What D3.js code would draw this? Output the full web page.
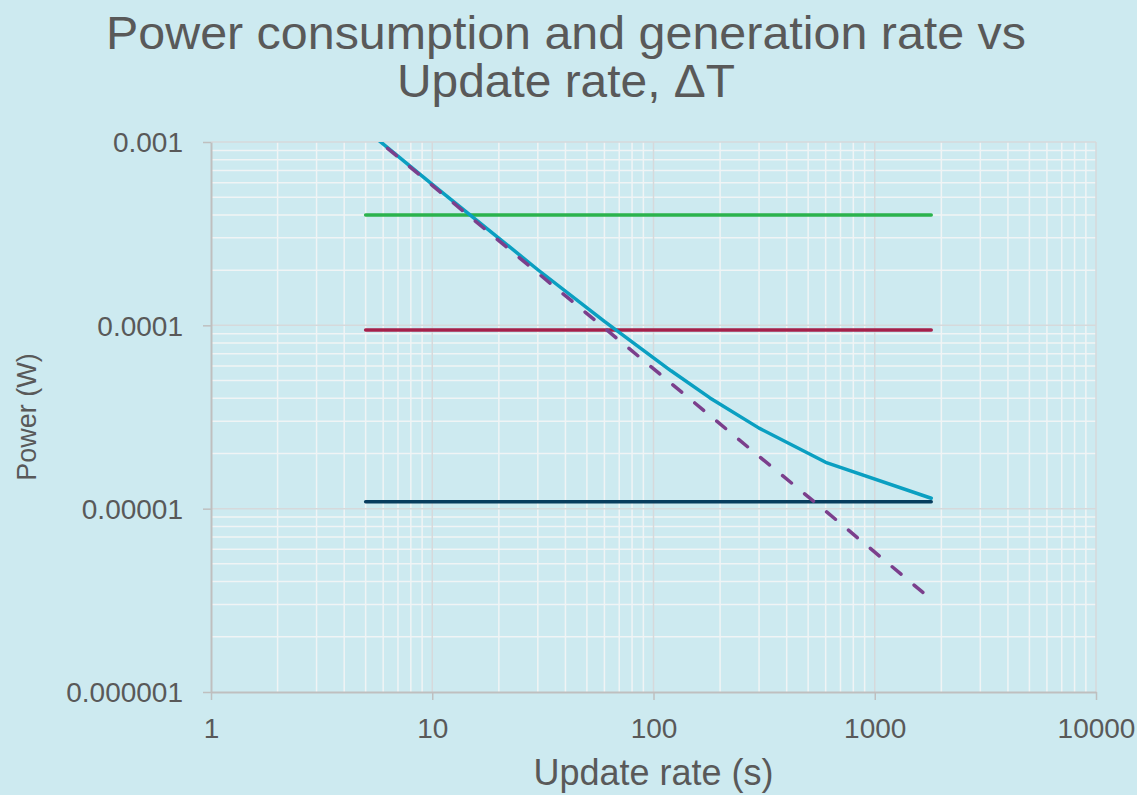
<!DOCTYPE html>
<html>
<head>
<meta charset="utf-8">
<script src="https://cdn.jsdelivr.net/npm/d3@7"></script>
<style>
  html, body { margin: 0; padding: 0; background: #cdeaf0; }
  svg { display: block; font-family: Arial, "Liberation Sans", sans-serif; }
</style>
</head>
<body>
<svg id="chart" width="1137" height="795"></svg>
<script>
// Update interval ΔT in seconds
const updateRate = [5, 10, 30, 60, 120, 180, 300, 600, 1800];

// Power drawn per update interval (W)
const updateEnergyPower = [1.16e-3, 5.8e-4, 1.93e-4, 9.67e-5, 4.83e-5, 3.22e-5, 1.93e-5, 9.7e-6, 3.2e-6];
const totalConsumption  = [1.168e-3, 5.88e-4, 2.01e-4, 1.05e-4, 5.65e-5, 4.02e-5, 2.75e-5, 1.79e-5, 1.14e-5];

// Generation rates (W), constant over the update interval
const generationHigh = [4.0e-4, 4.0e-4, 4.0e-4, 4.0e-4, 4.0e-4, 4.0e-4, 4.0e-4, 4.0e-4, 4.0e-4];
const generationMid  = [9.43e-5, 9.43e-5, 9.43e-5, 9.43e-5, 9.43e-5, 9.43e-5, 9.43e-5, 9.43e-5, 9.43e-5];
const generationLow  = [1.09e-5, 1.09e-5, 1.09e-5, 1.09e-5, 1.09e-5, 1.09e-5, 1.09e-5, 1.09e-5, 1.09e-5];

// Axis ticks
const xTicks = [1, 10, 100, 1000, 10000];
const xTickLabels = ["1", "10", "100", "1000", "10000"];
const yTicks = [1e-6, 1e-5, 1e-4, 1e-3];
const yTickLabels = ["0.000001", "0.00001", "0.0001", "0.001"];

const titleLines = ["Power consumption and generation rate vs", "Update rate, ΔT"];
const xTitle = "Update rate (s)";
const yTitle = "Power (W)";

const W = 1137, H = 795;
const plot = { left: 211, right: 1096, top: 142, bottom: 692 };
const textColor = "#595959";

const svg = d3.select("#chart");

svg.append("rect").attr("width", W).attr("height", H).attr("fill", "#cdeaf0");

const x = d3.scaleLog().domain([1, 10000]).range([plot.left, plot.right]);
const y = d3.scaleLog().domain([1e-6, 1e-3]).range([plot.bottom, plot.top]);

// Minor gridlines: 2..9 within each decade
const minorX = [], minorY = [];
for (let d = 0; d < 4; d++) for (let m = 2; m <= 9; m++) minorX.push(m * Math.pow(10, d));
for (let d = -6; d < -3; d++) for (let m = 2; m <= 9; m++) minorY.push(m * Math.pow(10, d));

const grid = svg.append("g");
grid.selectAll(".mx").data(minorX).join("line")
  .attr("x1", d => x(d)).attr("x2", d => x(d))
  .attr("y1", plot.top).attr("y2", plot.bottom)
  .attr("stroke", "#f0f4f5").attr("stroke-width", 1.5);
grid.selectAll(".my").data(minorY).join("line")
  .attr("y1", d => y(d)).attr("y2", d => y(d))
  .attr("x1", plot.left).attr("x2", plot.right)
  .attr("stroke", "#f0f4f5").attr("stroke-width", 1.5);
// Major gridlines
grid.selectAll(".Mx").data(xTicks.slice(1)).join("line")
  .attr("x1", d => x(d)).attr("x2", d => x(d))
  .attr("y1", plot.top).attr("y2", plot.bottom)
  .attr("stroke", "#d6d9db").attr("stroke-width", 1.5);
grid.selectAll(".My").data(yTicks.slice(1)).join("line")
  .attr("y1", d => y(d)).attr("y2", d => y(d))
  .attr("x1", plot.left).attr("x2", plot.right)
  .attr("stroke", "#d6d9db").attr("stroke-width", 1.5);

// Axes
const xAxis = d3.axisBottom(x).tickValues(xTicks).tickFormat((d, i) => xTickLabels[i]).tickSize(8).tickSizeOuter(0);
const yAxis = d3.axisLeft(y).tickValues(yTicks).tickFormat((d, i) => yTickLabels[i]).tickSize(8).tickSizeOuter(0);

const gx = svg.append("g").attr("transform", `translate(0,${plot.bottom})`).call(xAxis);
const gy = svg.append("g").attr("transform", `translate(${plot.left},0)`).call(yAxis);
[gx, gy].forEach(g => {
  g.select(".domain").attr("stroke", "#bfbfbf").attr("stroke-width", 2);
  g.selectAll(".tick line").attr("stroke", "#bfbfbf").attr("stroke-width", 1.5);
  g.selectAll(".tick text").attr("fill", textColor).attr("font-size", 28)
    .attr("font-family", "Arial, 'Liberation Sans', sans-serif");
});
gx.selectAll(".tick text").attr("dy", null).attr("y", 46);
gy.selectAll(".tick text").attr("x", -28).attr("dy", "0.35em");

// Series
svg.append("clipPath").attr("id", "plot-clip").append("rect")
  .attr("x", plot.left).attr("y", plot.top)
  .attr("width", plot.right - plot.left).attr("height", plot.bottom - plot.top);

const line = d3.line().x(d => x(d[0])).y(d => y(d[1]));
const series = [
  { values: generationLow, color: "#073d5e", dash: null },
  { values: generationMid, color: "#a5204a", dash: null },
  { values: generationHigh, color: "#2bb34d", dash: null },
  { values: totalConsumption, color: "#0a9fc1", dash: null },
  { values: updateEnergyPower, color: "#7b3f8c", dash: "11.5,17" }
];
const gs = svg.append("g").attr("clip-path", "url(#plot-clip)");
series.forEach(s => {
  gs.append("path")
    .datum(updateRate.map((t, i) => [t, s.values[i]]))
    .attr("d", line)
    .attr("fill", "none")
    .attr("stroke", s.color)
    .attr("stroke-width", 3.5)
    .attr("stroke-linecap", "round")
    .attr("stroke-linejoin", "round")
    .attr("stroke-dasharray", s.dash);
});

// Titles
const titleWidths = [920, 338];
svg.append("text")
  .attr("text-anchor", "middle")
  .attr("fill", textColor).attr("font-size", 46)
  .selectAll("tspan").data(titleLines).join("tspan")
  .attr("x", 566).attr("y", (d, i) => 49 + i * 48)
  .attr("textLength", (d, i) => titleWidths[i])
  .attr("lengthAdjust", "spacingAndGlyphs")
  .text(d => d);

svg.append("text")
  .attr("x", (plot.left + plot.right) / 2).attr("y", 785)
  .attr("text-anchor", "middle").attr("fill", textColor).attr("font-size", 36)
  .text(xTitle);

svg.append("text")
  .attr("transform", `translate(36,${(plot.top + plot.bottom) / 2}) rotate(-90)`)
  .attr("text-anchor", "middle").attr("fill", textColor).attr("font-size", 27)
  .text(yTitle);
</script>
</body>
</html>
